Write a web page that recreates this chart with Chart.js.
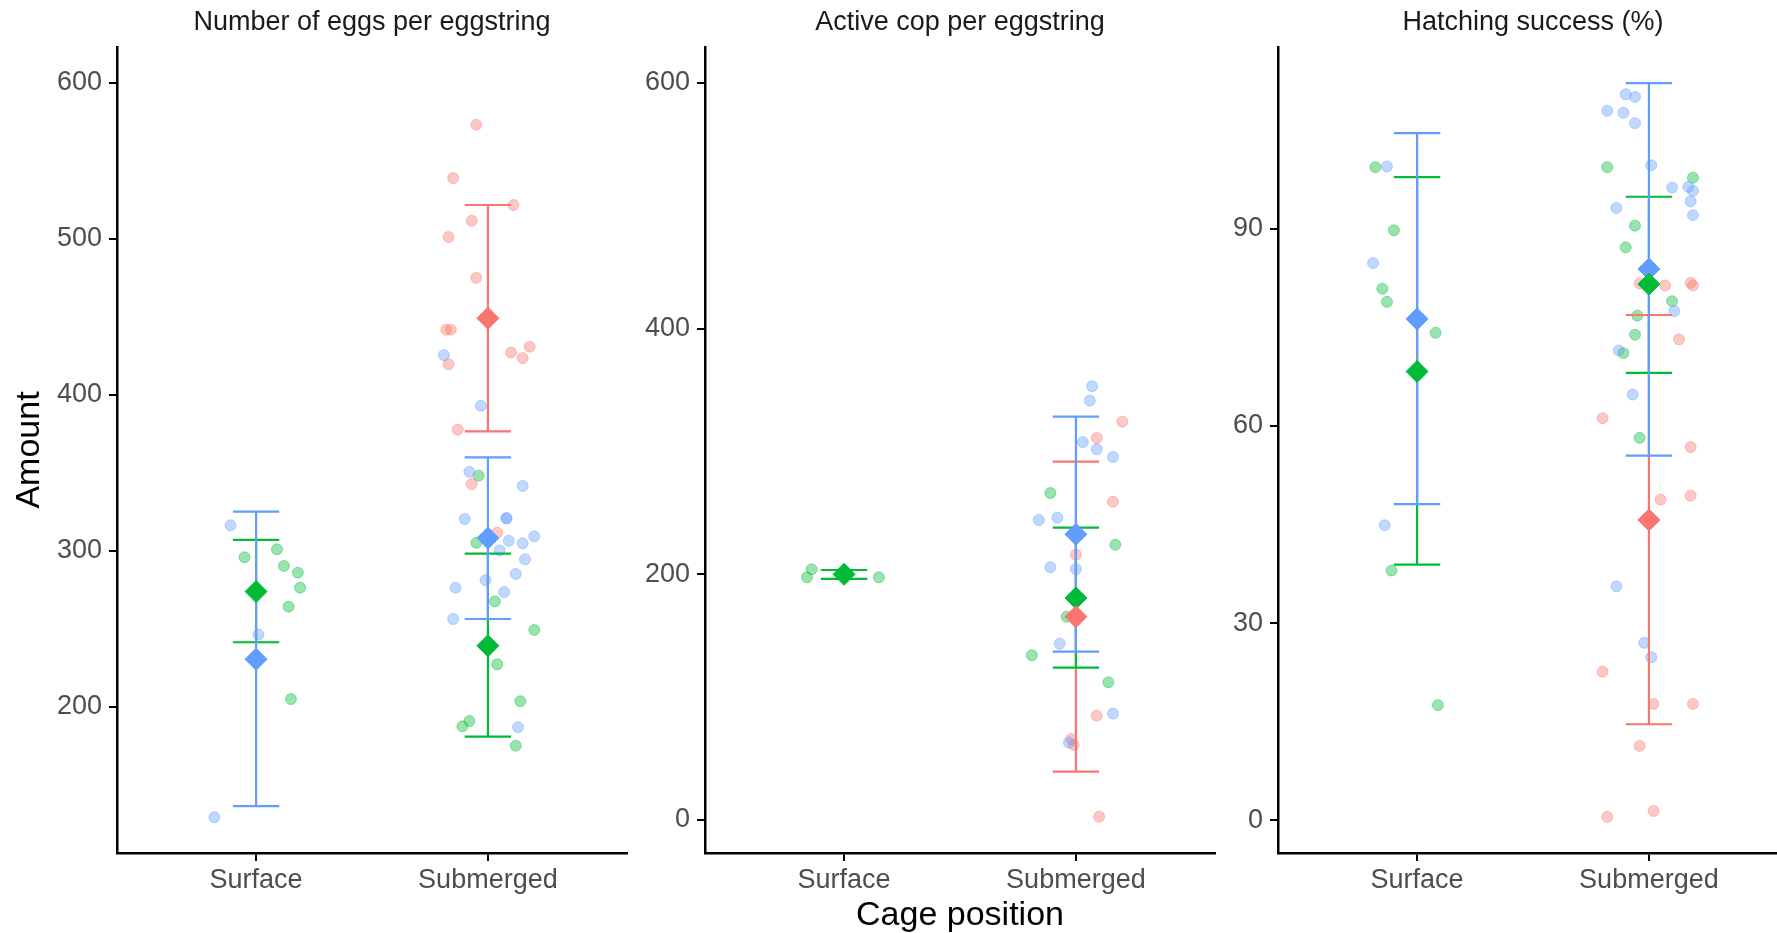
<!DOCTYPE html>
<html>
<head>
<meta charset="utf-8">
<title>Eggstring measurements by cage position</title>
<script src="https://cdn.jsdelivr.net/npm/chart.js@4/dist/chart.umd.min.js"></script>
<style>
  html, body { margin: 0; padding: 0; background: #fff; overflow: hidden; }
  body { width: 1777px; height: 933px; position: relative; }
  canvas { position: absolute; top: 0; }
</style>
</head>
<body>
<canvas id="eggs" width="660" height="933" style="left:0px"></canvas>
<canvas id="cop" width="620" height="933" style="left:630px"></canvas>
<canvas id="hatch" width="620" height="933" style="left:1200px"></canvas>
<script>
const categories = ['Surface', 'Submerged'];
// group order: red, green, blue
const groupColors = ['#F8766D', '#00BA38', '#619CFF'];
const groupFills = ['rgba(248,118,109,0.4)', 'rgba(0,186,56,0.4)', 'rgba(97,156,255,0.4)'];

// Number of eggs per eggstring (x = category 1/2 plus jitter)
const eggsRedX = [1.95, 1.85, 2.11, 1.93, 1.83, 1.95, 1.82, 1.84, 1.83, 2.10, 2.15, 2.18, 1.87, 1.93, 2.04];
const eggsRedY = [573.3, 539.1, 521.8, 511.7, 501.3, 475.2, 441.9, 441.9, 419.7, 427.3, 423.7, 431.0, 377.8, 342.9, 311.7];
const eggsGreenX = [0.95, 1.09, 1.12, 1.18, 1.19, 1.14, 1.15, 1.96, 1.95, 2.03, 2.20, 2.04, 2.14, 1.92, 1.89, 2.12];
const eggsGreenY = [296.0, 301.1, 290.4, 286.1, 276.5, 264.3, 205.1, 348.3, 305.3, 267.7, 249.4, 227.4, 203.7, 191.0, 187.6, 175.2];
const eggsBlueX = [0.89, 1.01, 0.82, 1.81, 1.97, 1.92, 2.15, 1.90, 2.08, 2.08, 2.09, 2.15, 2.20, 2.05, 2.16, 2.12, 1.99, 1.86, 2.07, 1.85, 2.13];
const eggsBlueY = [316.5, 246.4, 129.3, 425.6, 393.1, 350.8, 341.7, 320.5, 321.2, 320.8, 306.6, 304.9, 309.4, 300.4, 294.7, 285.3, 281.2, 276.5, 273.7, 256.4, 187.0];
// [surface, submerged] for red, green, blue
const eggsMean = [[null, 449.2], [274.0, 239.3], [230.6, 308.3]];
const eggsLow = [[null, 376.7], [241.5, 181.0], [136.4, 256.4]];
const eggsHigh = [[null, 521.8], [307.1, 298.3], [325.2, 360.0]];
const eggsTicks = [200, 300, 400, 500, 600];
const eggsRange = [106.4, 623.1];

// Active cop per eggstring
const copRedX = [2.20, 2.09, 2.16, 2.00, 2.09, 1.98, 1.99, 2.10];
const copRedY = [324.3, 311.0, 259.1, 216.0, 84.9, 65.9, 61.1, 2.7];
const copGreenX = [0.86, 0.84, 1.15, 1.89, 2.17, 1.96, 1.81, 2.14];
const copGreenY = [204.1, 197.6, 197.6, 266.2, 224.1, 165.5, 134.1, 112.1];
const copBlueX = [2.07, 2.06, 2.03, 2.09, 2.16, 1.84, 1.92, 1.89, 2.00, 1.93, 2.16, 1.97];
const copBlueY = [353.1, 341.4, 307.7, 301.8, 295.5, 244.2, 246.1, 205.7, 204.3, 143.5, 86.6, 63.0];
const copMean = [[null, 165.5], [200.0, 180.7], [null, 232.6]];
const copLow = [[null, 39.3], [196.2, 124.0], [null, 137.0]];
const copHigh = [[null, 291.7], [203.5, 238.0], [null, 328.3]];
const copTicks = [0, 200, 400, 600];
const copRange = [-26.9, 629.3];

// Hatching success (%)
const hatchRedX = [1.96, 2.07, 2.18, 2.19, 2.13, 1.80, 2.18, 2.05, 2.18, 1.80, 2.02, 2.19, 1.96, 2.02, 1.82];
const hatchRedY = [81.7, 81.4, 81.8, 81.4, 73.2, 61.2, 56.8, 48.8, 49.4, 22.6, 17.7, 17.7, 11.3, 1.4, 0.5];
const hatchGreenX = [0.82, 0.90, 0.85, 0.87, 1.08, 0.89, 1.09, 1.82, 2.19, 1.94, 1.90, 2.10, 1.95, 1.94, 1.89, 1.96];
const hatchGreenY = [99.4, 89.8, 80.9, 78.9, 74.2, 38.0, 17.5, 99.4, 97.8, 90.5, 87.2, 79.0, 76.8, 73.9, 71.1, 58.2];
const hatchBlueX = [0.87, 0.81, 0.86, 1.90, 1.94, 1.82, 1.89, 1.94, 2.01, 2.10, 2.17, 2.19, 2.18, 1.86, 2.19, 2.11, 1.87, 1.93, 1.86, 1.98, 2.01];
const hatchBlueY = [99.5, 84.8, 44.9, 110.5, 110.1, 108.0, 107.7, 106.1, 99.7, 96.3, 96.4, 95.8, 94.2, 93.2, 92.1, 77.5, 71.5, 64.8, 35.6, 27.0, 24.8];
const hatchMean = [[null, 45.7], [68.3, 81.6], [76.3, 83.9]];
const hatchLow = [[null, 14.6], [38.9, 68.1], [48.1, 55.5]];
const hatchHigh = [[null, 76.9], [97.9, 94.9], [104.6, 112.2]];
const hatchTicks = [0, 30, 60, 90];
const hatchRange = [-5.0, 117.7];

Chart.defaults.font.family = "'Liberation Sans', Arial, sans-serif";
Chart.defaults.animation = false;

function pointSet(xs, ys, g) {
  return {
    data: xs.map((x, i) => ({ x: x, y: ys[i] })),
    backgroundColor: groupFills[g],
    borderColor: groupFills[g],
    borderWidth: 1,
    pointRadius: 5.5,
    pointHoverRadius: 5.5,
  };
}

// same path as ggplot's errorbar: top cap, down the middle, bottom cap
function errorBarSet(c, g, low, high) {
  const x = c + 1;
  const w = 0.1;
  return {
    data: [
      { x: x - w, y: high }, { x: x + w, y: high }, { x: x, y: high },
      { x: x, y: low }, { x: x - w, y: low }, { x: x + w, y: low },
    ],
    showLine: true,
    borderColor: groupColors[g],
    borderWidth: 2.2,
    pointRadius: 0,
    pointHoverRadius: 0,
    tension: 0,
    fill: false,
  };
}

function meanSet(c, g, mean) {
  return {
    data: [{ x: c + 1, y: mean }],
    pointStyle: 'rectRot',
    pointRadius: 11,
    pointHoverRadius: 11,
    backgroundColor: groupColors[g],
    borderColor: groupColors[g],
    borderWidth: 1,
  };
}

function makePanel(id, title, pts, mean, low, high, ticks, range, box, axisTitles) {
  // built bottom to top, reversed at the end (chart.js paints dataset 0 last)
  const layers = [];
  pts.forEach((p, g) => layers.push(pointSet(p[0], p[1], g)));
  [0, 1, 2].forEach(g => [0, 1].forEach(c => {
    if (mean[g][c] !== null) layers.push(errorBarSet(c, g, low[g][c], high[g][c]));
  }));
  [2, 1, 0].forEach(g => [0, 1].forEach(c => {
    if (mean[g][c] !== null) layers.push(meanSet(c, g, mean[g][c]));
  }));

  new Chart(document.getElementById(id), {
    type: 'scatter',
    data: { datasets: layers.reverse() },
    options: {
      responsive: false,
      layout: { padding: { left: 0, top: 0, bottom: 0, right: box.right } },
      plugins: {
        legend: { display: false },
        tooltip: { enabled: false },
        title: {
          display: true,
          text: title,
          fullSize: false,
          color: '#1A1A1A',
          font: { size: 27, weight: 'normal', lineHeight: 1.2 },
          padding: { top: 6, bottom: 8.6 },
        },
      },
      scales: {
        x: {
          type: 'linear',
          min: 0.4,
          max: 2.6,
          afterBuildTicks: (s) => { s.ticks = categories.map((c, i) => ({ value: i + 1 })); },
          afterFit: (s) => { s.height = 80; },
          ticks: {
            callback: (v) => categories[Math.round(v) - 1],
            color: '#4D4D4D',
            font: { size: 27 },
            padding: 3,
            maxRotation: 0,
            autoSkip: false,
          },
          grid: { drawOnChartArea: false, color: '#000', lineWidth: 2, tickLength: 8 },
          border: { color: '#000', width: 2.5 },
          title: {
            display: !!axisTitles.x,
            text: axisTitles.x || '',
            color: '#000',
            font: { size: 34, lineHeight: 1.0 },
            padding: { top: 0, bottom: 0 },
          },
        },
        y: {
          type: 'linear',
          min: range[0],
          max: range[1],
          afterBuildTicks: (s) => { s.ticks = ticks.map(v => ({ value: v })); },
          afterFit: (s) => { s.width = box.yWidth; },
          ticks: { color: '#4D4D4D', font: { size: 27 }, padding: 7 },
          grid: { drawOnChartArea: false, color: '#000', lineWidth: 2, tickLength: 8 },
          border: { color: '#000', width: 2.5 },
          title: {
            display: !!axisTitles.y,
            text: axisTitles.y || '',
            color: '#000',
            font: { size: 34, lineHeight: 1.2 },
            padding: { top: 9, bottom: 0 },
          },
        },
      },
    },
  });
}

makePanel('eggs', 'Number of eggs per eggstring',
  [[eggsRedX, eggsRedY], [eggsGreenX, eggsGreenY], [eggsBlueX, eggsBlueY]],
  eggsMean, eggsLow, eggsHigh, eggsTicks, eggsRange,
  { yWidth: 117, right: 33 }, { y: 'Amount' });

makePanel('cop', 'Active cop per eggstring',
  [[copRedX, copRedY], [copGreenX, copGreenY], [copBlueX, copBlueY]],
  copMean, copLow, copHigh, copTicks, copRange,
  { yWidth: 75, right: 35 }, { x: 'Cage position' });

makePanel('hatch', 'Hatching success (%)',
  [[hatchRedX, hatchRedY], [hatchGreenX, hatchGreenY], [hatchBlueX, hatchBlueY]],
  hatchMean, hatchLow, hatchHigh, hatchTicks, hatchRange,
  { yWidth: 78, right: 32 }, {});
</script>
</body>
</html>
